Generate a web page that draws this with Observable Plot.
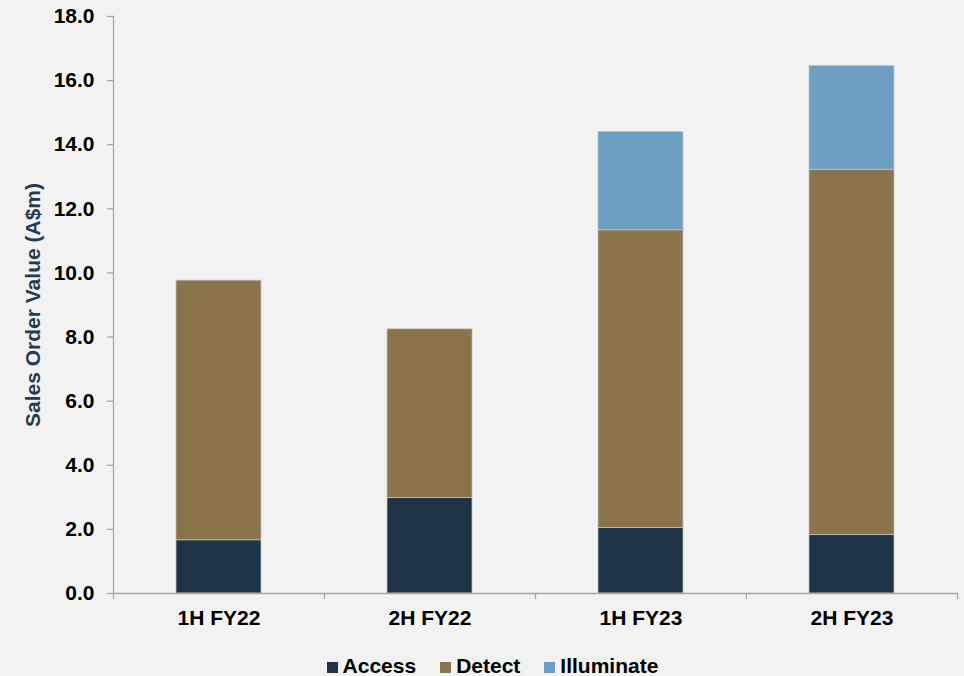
<!DOCTYPE html>
<html>
<head>
<meta charset="utf-8">
<script src="https://cdn.jsdelivr.net/npm/d3@7"></script>
<script src="https://cdn.jsdelivr.net/npm/@observablehq/plot@0.6"></script>
<style>
  html, body { margin: 0; padding: 0; background: #f2f2f2; }
  body { width: 964px; height: 676px; overflow: hidden; font-family: "Liberation Sans", Arial, sans-serif; }
  #chart svg { display: block; }
  .legend { display: flex; justify-content: center; gap: 24px; font-size: 21px; font-weight: bold; line-height: 21px; color: #000; padding-left: 21px; }
  .legend .item { display: flex; align-items: flex-end; }
  .legend .sw { width: 11px; height: 11px; margin-right: 5px; margin-bottom: 3px; }
</style>
</head>
<body>
<div id="chart"></div>
<div class="legend" id="legend"></div>
<script>
const categories = ["1H FY22", "2H FY22", "1H FY23", "2H FY23"];
const series = ["Access", "Detect", "Illuminate"];
const access = [1.66, 2.98, 2.04, 1.82];
const detect = [8.10, 5.26, 9.29, 11.40];
const illuminate = [0, 0, 3.07, 3.24];
const colors = ["#1e3446", "#8b734c", "#6d9fc2"];
const yTicks = [0, 2, 4, 6, 8, 10, 12, 14, 16, 18];
const yTitle = "Sales Order Value (A$m)";

const valuesBySeries = {Access: access, Detect: detect, Illuminate: illuminate};
const data = [];
series.forEach(s => categories.forEach((c, i) => data.push({category: c, series: s, value: valuesBySeries[s][i]})));

const width = 964, height = 655, marginLeft = 113, marginRight = 7, marginTop = 16, marginBottom = 62;
const step = (width - marginLeft - marginRight) / categories.length;
const axisGray = "#a6a6a6";
const font = "Liberation Sans, Arial, sans-serif";

const chart = Plot.plot({
  width, height, marginLeft, marginRight, marginTop, marginBottom,
  style: {background: "#f2f2f2", fontFamily: font, overflow: "visible"},
  x: {domain: categories, paddingInner: 0.597, paddingOuter: 0.2985, label: null},
  y: {domain: [0, 18], label: null},
  color: {domain: series, range: colors},
  marks: [
    Plot.barY(data, {x: "category", y: "value", fill: "series", order: series, stroke: "#c4c4c4", strokeWidth: 0.75}),
    Plot.ruleY([0], {stroke: axisGray, strokeWidth: 1.3}),
    Plot.frame({anchor: "left", stroke: axisGray, strokeWidth: 1.3}),
    Plot.ruleX(categories, {x: d => d, y1: 0, y2: 0, insetBottom: -6, dx: -step / 2, stroke: axisGray, strokeWidth: 1.3}),
    Plot.ruleX([categories[categories.length - 1]], {x: d => d, y1: 0, y2: 0, insetBottom: -6, dx: step / 2, stroke: axisGray, strokeWidth: 1.3}),
    Plot.axisY({ticks: yTicks, tickFormat: d3.format(".1f"), tickSize: 6, tickPadding: 13, stroke: axisGray, strokeWidth: 1.3, fill: "#000",
      fontSize: 21, fontWeight: "bold", label: yTitle, labelAnchor: "center", labelArrow: "none", labelOffset: 88}),
    Plot.axisX({tickSize: 0, tickPadding: 17, fontSize: 21, fontWeight: "bold", fill: "#000", label: null})
  ]
});
document.getElementById("chart").appendChild(chart);

// style the y-axis title (dark blue, no arrow)
chart.querySelectorAll("text").forEach(t => {
  if (t.textContent.includes("Sales Order Value")) {
    t.textContent = yTitle;
    t.setAttribute("fill", "#243a50");
    t.style.fill = "#243a50";
    t.style.fontSize = "21px";
  }
});

const legend = document.getElementById("legend");
series.forEach((s, i) => {
  const item = document.createElement("div");
  item.className = "item";
  const sw = document.createElement("span");
  sw.className = "sw";
  sw.style.background = colors[i];
  const label = document.createElement("span");
  label.textContent = s;
  item.appendChild(sw);
  item.appendChild(label);
  legend.appendChild(item);
});
</script>
</body>
</html>
